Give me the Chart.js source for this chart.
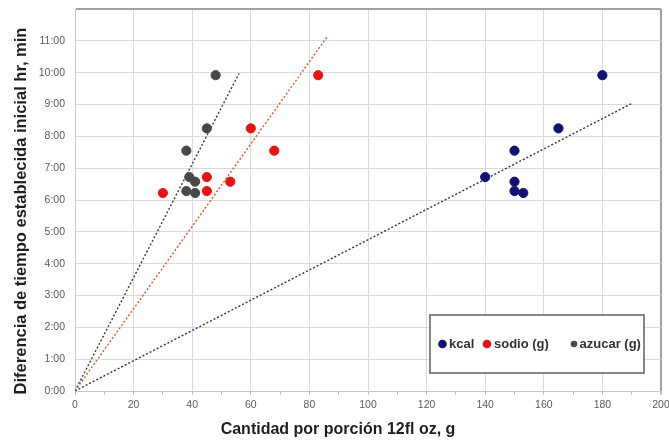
<!DOCTYPE html>
<html>
<head>
<meta charset="utf-8">
<script src="https://cdn.jsdelivr.net/npm/chart.js@4/dist/chart.umd.min.js"></script>
<style>
html,body{margin:0;padding:0;background:#fff;}
#wrap{width:669px;height:440px;position:relative;}
</style>
</head>
<body>
<div id="wrap"><canvas id="c" width="669" height="440"></canvas></div>
<script>
// ---- data (x = grams per 12 fl oz serving, y = hours) ----
const seriesNames = ['kcal', 'sodio (g)', 'azucar (g)'];
const kcalX   = [180, 165, 150, 140, 150, 150, 153];
const sodioX  = [83, 60, 68, 45, 53, 45, 30];
const azucarX = [48, 45, 38, 39, 41, 38, 41];
const hoursY  = [9.92, 8.25, 7.55, 6.72, 6.575, 6.28, 6.22];
// trend lines (start/end)
const trendKcal   = [[0, 0], [190, 9.03]];
const trendSodio  = [[0, 0], [86, 11.12]];
const trendAzucar = [[0, 0], [56, 9.98]];
const xTickValues = [0, 20, 40, 60, 80, 100, 120, 140, 160, 180, 200];
const yTickHours  = [0, 1, 2, 3, 4, 5, 6, 7, 8, 9, 10, 11];
const xTitle = 'Cantidad por porción 12fl oz, g';
const yTitle = 'Diferencia de tiempo establecida inicial hr, min';

const colKcal = 'rgb(18,18,112)';
const colSodio = 'rgb(232,18,18)';
const colAzucar = 'rgb(72,72,72)';

function pts(xs, ys){ return xs.map((x,i)=>({x:x, y:ys[i]})); }
function line(p){ return p.map(a=>({x:a[0], y:a[1]})); }

const titlesPlugin = {
  id: 'titles',
  afterDraw(chart){
    const ctx = chart.ctx;
    ctx.save();
    ctx.fillStyle = '#1e1e1e';
    ctx.font = 'bold 16px "Liberation Sans", Arial, sans-serif';
    ctx.textAlign = 'center';
    ctx.textBaseline = 'middle';
    ctx.fillText(xTitle, 338, 430);
    ctx.font = 'bold 16.5px "Liberation Sans", Arial, sans-serif';
    ctx.translate(21, 211);
    ctx.rotate(-Math.PI/2);
    ctx.fillText(yTitle, 0, 0);
    ctx.restore();
  }
};

const legendPlugin = {
  id: 'boxLegend',
  afterDraw(chart){
    const ctx = chart.ctx;
    ctx.save();
    ctx.fillStyle = '#fff';
    ctx.fillRect(430, 315, 214, 58);
    ctx.strokeStyle = 'rgb(95,95,95)';
    ctx.lineWidth = 1.5;
    ctx.strokeRect(430, 315, 214, 58);
    const entries = [
      {ds: chart.data.datasets[0], dot: 442.5, r: 4.3, tx: 449},
      {ds: chart.data.datasets[1], dot: 487, r: 4.3, tx: 494},
      {ds: chart.data.datasets[2], dot: 574, r: 3.3, tx: 579.5}
    ];
    ctx.font = 'bold 13px "Liberation Sans", Arial, sans-serif';
    ctx.textBaseline = 'middle';
    ctx.textAlign = 'left';
    entries.forEach(e=>{
      ctx.fillStyle = e.ds.backgroundColor;
      ctx.beginPath(); ctx.arc(e.dot, 344, e.r, 0, Math.PI*2); ctx.fill();
      ctx.fillStyle = '#333';
      ctx.fillText(e.ds.label, e.tx, 344);
    });
    ctx.restore();
  }
};

new Chart(document.getElementById('c'), {
  type: 'scatter',
  data: {
    datasets: [
      {label: seriesNames[0], data: pts(kcalX, hoursY), backgroundColor: colKcal, borderColor: colKcal, pointRadius: 4.6, pointHoverRadius: 4.6, order: 0},
      {label: seriesNames[1], data: pts(sodioX, hoursY), backgroundColor: colSodio, borderColor: colSodio, pointRadius: 4.6, pointHoverRadius: 4.6, order: 0},
      {label: seriesNames[2], data: pts(azucarX, hoursY), backgroundColor: colAzucar, borderColor: colAzucar, pointRadius: 4.6, pointHoverRadius: 4.6, order: 0},
      {label: 'trend kcal', data: line(trendKcal), showLine: true, pointRadius: 0, borderColor: 'rgb(45,45,105)', borderWidth: 1.4, borderDash: [2,2], order: 1},
      {label: 'trend sodio', data: line(trendSodio), showLine: true, pointRadius: 0, borderColor: 'rgb(222,85,40)', borderWidth: 1.4, borderDash: [2,2], order: 1},
      {label: 'trend azucar', data: line(trendAzucar), showLine: true, pointRadius: 0, borderColor: 'rgb(60,60,60)', borderWidth: 1.4, borderDash: [2,2], order: 1}
    ]
  },
  options: {
    responsive: false,
    animation: false,
    layout: {padding: {left: 0, right: 8, top: 9, bottom: 0}},
    plugins: {legend: {display: false}, tooltip: {enabled: false}},
    scales: {
      x: {
        type: 'linear', min: 0, max: 200,
        afterBuildTicks(s){ const t=[]; for(let v=0; v<=200; v+=10) t.push({value:v}); s.ticks = t; },
        afterFit(s){ s.height = 49; s.paddingLeft = 0; s.paddingRight = 0; },
        ticks: {
          padding: 4,
          color: '#5a5a5a',
          font: {family: '"Liberation Sans", Arial, sans-serif', size: 10.5},
          autoSkip: false, maxRotation: 0,
          callback: v => xTickValues.includes(v) ? String(v) : ''
        },
        grid: {
          color: c => c.tick && c.tick.value === 200 ? 'rgb(160,160,160)' : (c.tick && c.tick.value % 20 === 0 ? 'rgb(218,218,218)' : 'rgba(0,0,0,0)'),
          lineWidth: c => c.tick && c.tick.value === 200 ? 2 : 1,
          tickColor: 'rgb(190,190,190)',
          tickLength: 4
        },
        border: {color: 'rgb(200,200,200)', width: 1}
      },
      y: {
        type: 'linear', min: 0, max: 12,
        afterBuildTicks(s){ const t=[]; for(let v=0; v<=12; v++) t.push({value:v}); s.ticks = t; },
        afterFit(s){ s.width = 75; s.paddingTop = 0; s.paddingBottom = 0; },
        ticks: {
          padding: 10,
          color: '#5a5a5a',
          font: {family: '"Liberation Sans", Arial, sans-serif', size: 10.5},
          callback: v => yTickHours.includes(v) ? v + ':00' : ''
        },
        grid: {
          color: c => c.tick && c.tick.value === 12 ? 'rgb(160,160,160)' : 'rgb(218,218,218)',
          lineWidth: c => c.tick && c.tick.value === 12 ? 2 : 1,
          drawTicks: false
        },
        border: {color: 'rgb(200,200,200)', width: 1}
      }
    }
  },
  plugins: [titlesPlugin, legendPlugin]
});
</script>
</body>
</html>
